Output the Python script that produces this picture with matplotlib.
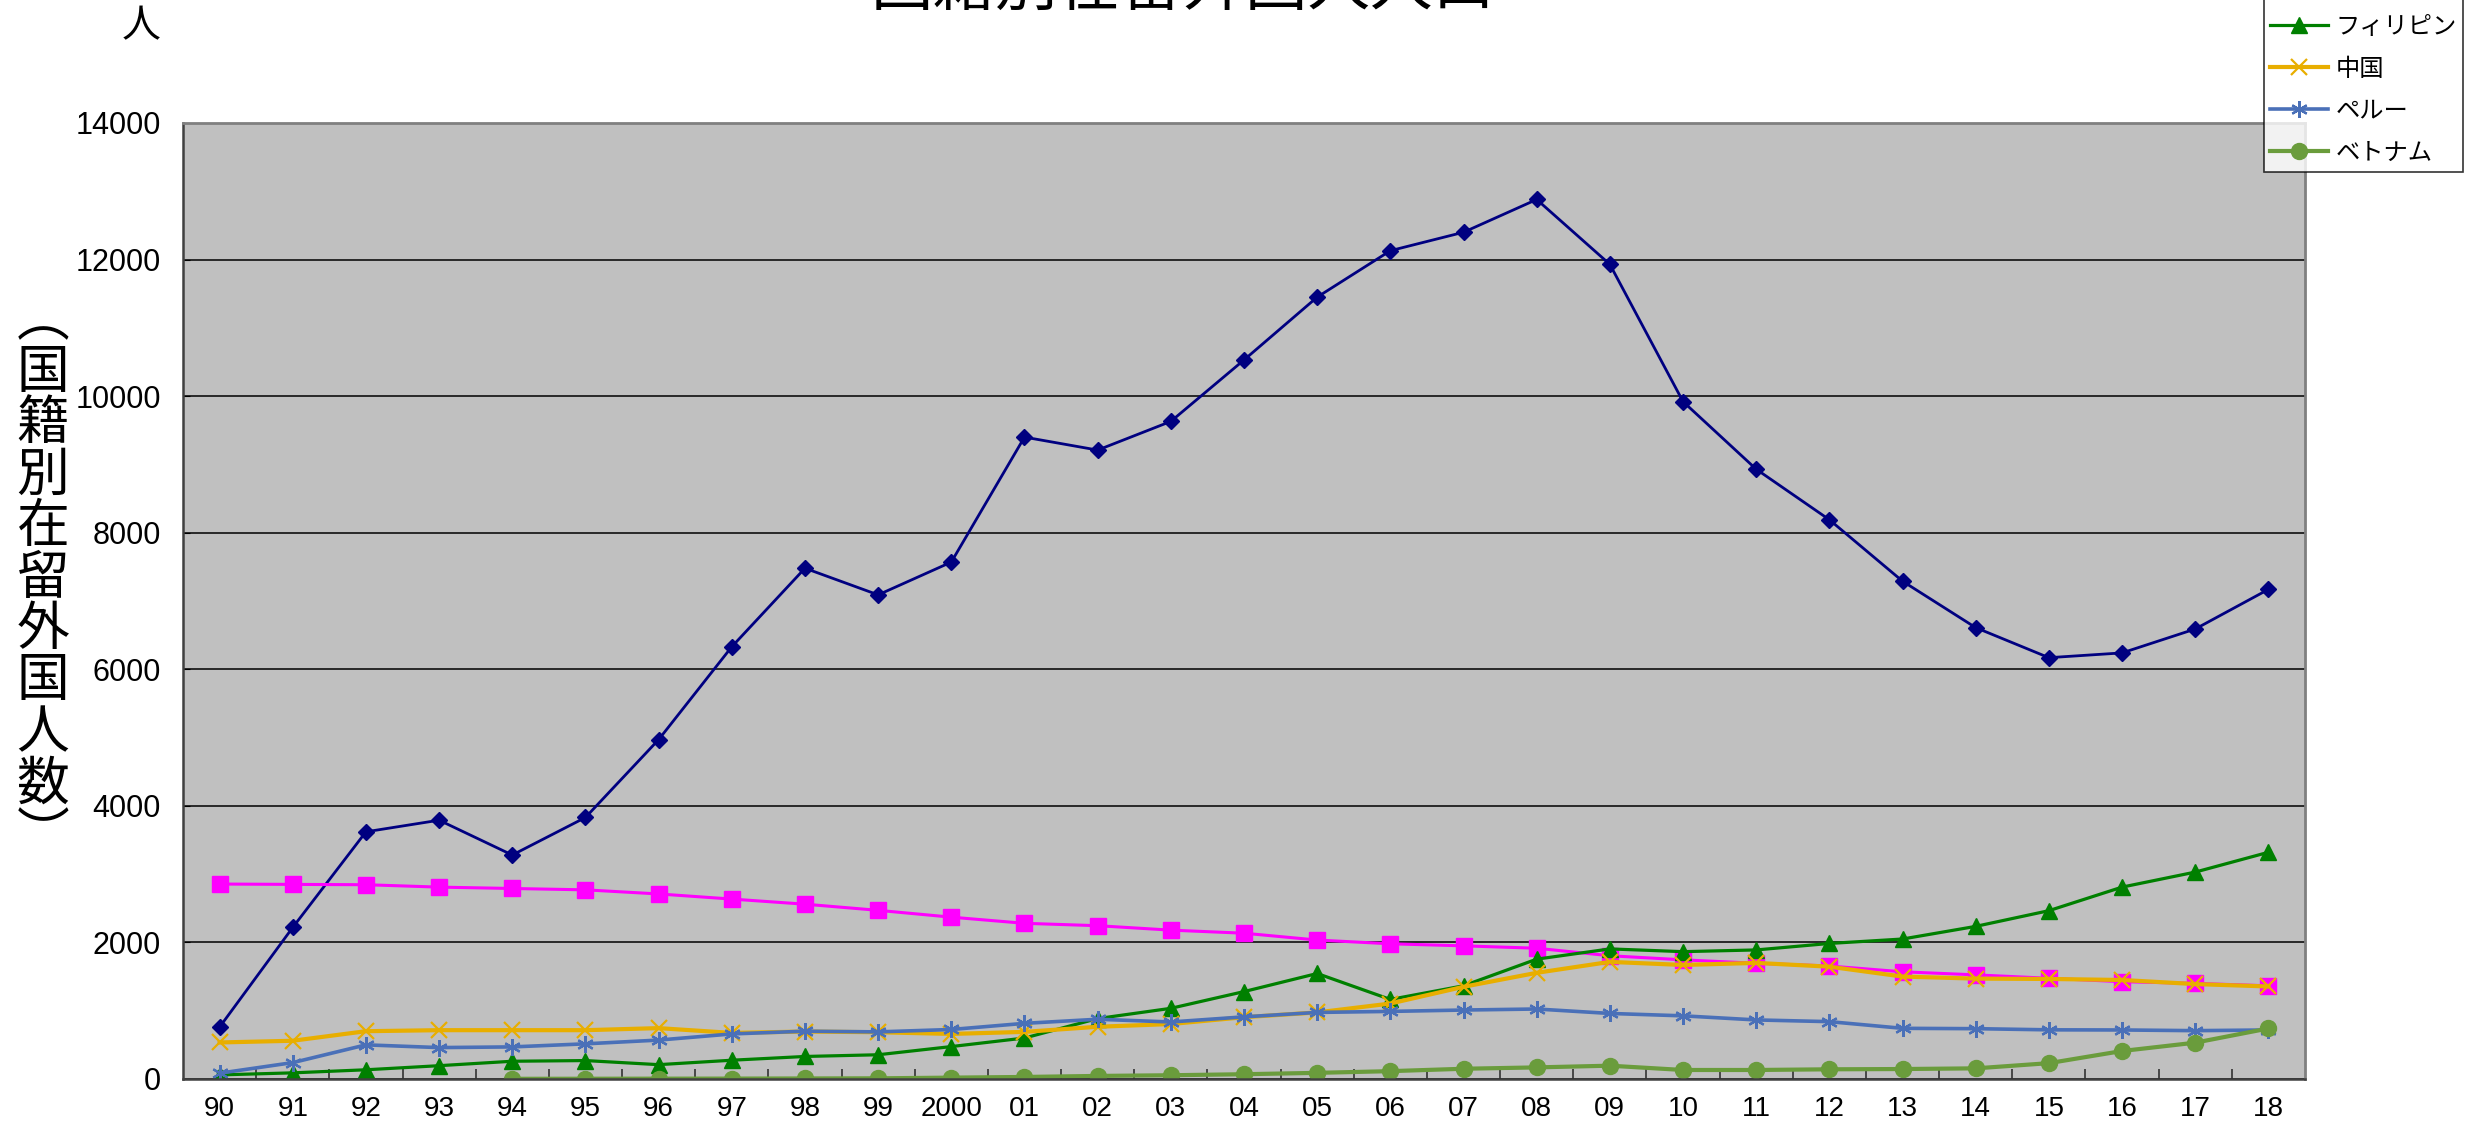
import numpy as np
import matplotlib
matplotlib.use("Agg")
import matplotlib.pyplot as plt
from matplotlib.ticker import FixedLocator

plt.rcParams['font.family'] = ['Liberation Sans', 'Noto Sans CJK JP', 'DejaVu Sans']

# 年 (1990-2018)
years = ['90', '91', '92', '93', '94', '95', '96', '97', '98', '99', '2000',
         '01', '02', '03', '04', '05', '06', '07', '08', '09', '10',
         '11', '12', '13', '14', '15', '16', '17', '18']

brazil = [760, 2220, 3620, 3790, 3280, 3830, 4970, 6330, 7480, 7090, 7570,
          9400, 9210, 9630, 10530, 11450, 12130, 12400, 12880, 11930, 9920,
          8930, 8190, 7290, 6610, 6170, 6240, 6590, 7170]
korea = [2855, 2850, 2845, 2810, 2790, 2770, 2710, 2635, 2560, 2470, 2370,
         2280, 2245, 2180, 2135, 2035, 1980, 1950, 1915, 1805, 1745,
         1695, 1655, 1570, 1525, 1475, 1425, 1400, 1365]
philippines = [60, 90, 135, 195, 260, 270, 210, 275, 330, 355, 475,
               600, 885, 1035, 1280, 1545, 1165, 1365, 1755, 1905, 1865,
               1890, 1985, 2050, 2235, 2465, 2810, 3030, 3320]
china = [535, 560, 700, 715, 715, 715, 745, 675, 695, 685, 660,
         690, 765, 805, 905, 975, 1105, 1350, 1555, 1715, 1670,
         1700, 1645, 1500, 1470, 1465, 1450, 1390, 1355]
peru = [85, 240, 500, 460, 470, 515, 570, 660, 700, 690, 725,
        815, 875, 835, 910, 975, 990, 1010, 1025, 960, 925,
        865, 840, 742, 737, 720, 718, 708, 718]
vietnam = [np.nan, np.nan, np.nan, np.nan, 3, 4, 5, 6, 8, 10, 20,
           30, 45, 55, 70, 90, 115, 150, 170, 195, 132,
           132, 142, 146, 156, 232, 410, 532, 740]

names = ['ブラジル', '韓国・朝鮮', 'フィリピン', '中国', 'ペルー', 'ベトナム']

W, H = 2473, 1122
fig = plt.figure(figsize=(W / 100, H / 100), dpi=100)
ax = fig.add_axes([183 / W, 1 - 1079 / H, (2305 - 183) / W, (1079 - 123) / H])
ax.set_facecolor('#C0C0C0')

x = np.arange(len(years))
ax.plot(x, brazil, color='#000080', lw=2.0, marker='D', ms=8.5, label=names[0])
ax.plot(x, korea, color='#FF00FF', lw=2.2, marker='s', ms=11, label=names[1])
ax.plot(x, philippines, color='#008000', lw=2.3, marker='^', ms=11.5, label=names[2])
ax.plot(x, china, color='#E8AE00', lw=3.0, marker='x', ms=11, mew=1.6, label=names[3])
ax.plot(x, peru, color='#4A70B8', lw=2.6, marker=(6, 2, 0), ms=12, mew=1.6, label=names[4])
ax.plot(x, vietnam, color='#6A9C3C', lw=3.0, marker='o', ms=11.5, label=names[5])

ax.set_xlim(-0.5, len(years) - 0.5)
ax.set_ylim(0, 14000)
ax.set_yticks(np.arange(0, 14001, 2000))
ax.set_xticks(x)
ax.set_xticklabels(years)
ax.xaxis.set_minor_locator(FixedLocator(np.arange(0.5, len(years) - 1, 1.0)))
ax.tick_params(axis='x', which='major', length=0, labelsize=20, pad=12)
ax.tick_params(axis='x', which='minor', direction='in', length=7, width=1.2, color='#333333')
ax.tick_params(axis='y', direction='in', length=5, labelsize=22, pad=16)

ax.grid(axis='y', color='black', lw=1.1)
ax.set_axisbelow(True)
for side in ['left', 'bottom']:
    ax.spines[side].set_color('#404040')
    ax.spines[side].set_linewidth(1.8)
for side in ['top', 'right']:
    ax.spines[side].set_color('#808080')
    ax.spines[side].set_linewidth(2.0)

# タイトル（上端で切れている）
fig.text(1183 / W, 1 + 13 / H, '国籍別在留外国人人口', ha='center', va='center',
         fontsize=45, family=['Noto Sans CJK JP'])
fig.text(141 / W, 1 - 26 / H, '人', ha='center', va='center',
         fontsize=28, family=['Noto Sans CJK JP'])

# 縦書きの軸ラベル
ylabel_chars = ['︵', '国', '籍', '別', '在', '留', '外', '国', '人', '数', '︶']
pitch = 51.5
y0 = 578 - pitch * (len(ylabel_chars) - 1) / 2
for i, ch in enumerate(ylabel_chars):
    fig.text(43 / W, 1 - (y0 + i * pitch) / H, ch, ha='center', va='center',
             fontsize=38, family=['Noto Sans CJK JP'])

leg = fig.legend(loc='lower right', bbox_to_anchor=(2463 / W, 1 - 172 / H),
                 bbox_transform=fig.transFigure, frameon=True,
                 fancybox=False, edgecolor='black', handlelength=2.4,
                 handletextpad=0.3, labelspacing=0.66, borderpad=0.25,
                 borderaxespad=0, prop={'family': ['Noto Sans CJK JP'], 'size': 17.5})
leg.get_frame().set_linewidth(1.2)

fig.savefig('out.png', dpi=100)
